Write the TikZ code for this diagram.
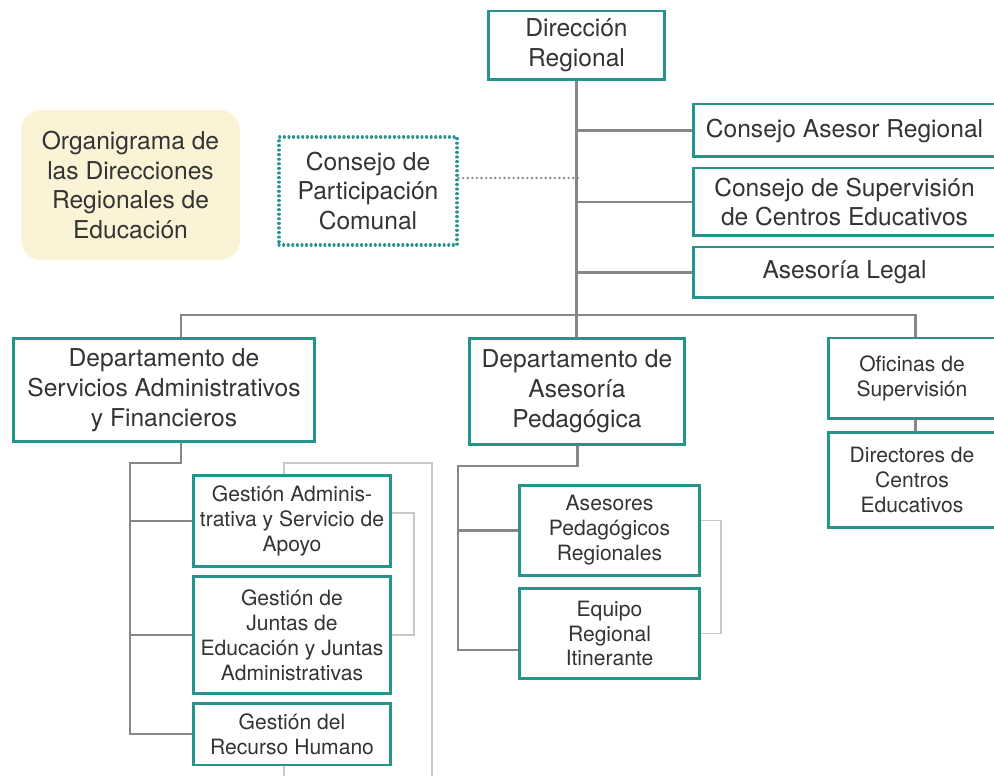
\documentclass[tikz,border=0pt]{standalone}
\usepackage{fontspec}
\setmainfont{TeX Gyre Heros}
\usepackage{tikz}

\definecolor{boxteal}{RGB}{38,148,138}
\definecolor{linegray}{RGB}{135,135,135}
\definecolor{bracketgray}{RGB}{200,200,200}
\definecolor{txtgray}{RGB}{52,52,52}
\definecolor{titlecream}{RGB}{250,243,214}

\begin{document}
\begin{tikzpicture}[x=0.02cm, y=-0.02cm,
        block/.style={rectangle, draw=boxteal, line width=1.7pt, fill=white, text=txtgray, align=center, inner sep=0pt, font=\fontsize{14}{17}\selectfont},
        smallblock/.style={block, font=\fontsize{12}{14.2}\selectfont},
        dotbox/.style={block, line width=1.8pt, dash pattern=on 0.01pt off 2.6pt, line cap=round},
        titlebox/.style={rectangle, rounded corners=0.4cm, fill=titlecream, text=txtgray, align=center, inner sep=0pt, font=\fontsize{14}{17}\selectfont},
        link/.style={draw=linegray, line width=1.7pt},
        bracket/.style={draw=bracketgray, line width=1.1pt},
        dotline/.style={draw=linegray, line width=1.5pt, dash pattern=on 0.01pt off 2.6pt, line cap=round}]

        \useasboundingbox (0,0) rectangle (994,776);

        % top level
        \node [block, minimum width=3.54cm, minimum height=1.38cm] (dr) at (576.5,45.5) {Dirección\\Regional};
        \node [block, minimum width=6.06cm, minimum height=1.06cm] (car) at (844.5,130.5) {Consejo Asesor Regional};
        \node [block, minimum width=6.06cm, minimum height=1.36cm] (csc) at (844.5,202) {Consejo de Supervisión\\de Centros Educativos};
        \node [block, minimum width=6.06cm, minimum height=1.02cm] (al) at (844.5,272.5) {Asesoría Legal};
        \node [dotbox, minimum width=3.56cm, minimum height=2.16cm] (cpc) at (368,191) {Consejo de\\Participación\\Comunal};
        \node [titlebox, minimum width=4.38cm, minimum height=3.0cm] (title) at (130.5,185) {Organigrama de\\las Direcciones\\Regionales de\\Educación};

        % departments
        \node [block, minimum width=6.04cm, minimum height=2.08cm] (dsaf) at (164,390) {Departamento de\\Servicios Administrativos\\y Financieros};
        \node [block, minimum width=4.32cm, minimum height=2.14cm] (dap) at (577,391.5) {Departamento de\\Asesoría\\Pedagógica};
        \node [smallblock, minimum width=3.36cm, minimum height=1.62cm] (os) at (912,378.5) {Oficinas de\\Supervisión};
        \node [smallblock, minimum width=3.36cm, minimum height=1.92cm] (dce) at (912,480) {Directores de\\Centros\\Educativos};

        % units
        \node [smallblock, minimum width=3.96cm, minimum height=1.84cm] (ga) at (292,521) {Gestión Adminis-\\trativa y Servicio de\\Apoyo};
        \node [smallblock, minimum width=3.96cm, minimum height=2.36cm] (gj) at (292,635) {Gestión de\\Juntas de\\Educación y Juntas\\Administrativas};
        \node [smallblock, minimum width=3.96cm, minimum height=1.24cm] (grh) at (292,734) {Gestión del\\Recurso Humano};
        \node [smallblock, minimum width=3.6cm, minimum height=1.82cm] (ap) at (609.5,530.5) {Asesores\\Pedagógicos\\Regionales};
        \node [smallblock, minimum width=3.6cm, minimum height=1.82cm] (er) at (609.5,633.5) {Equipo\\Regional\\Itinerante};

        \coordinate (barL) at (181,315);
        \coordinate (barR) at (915,315);
        \coordinate (spA) at (130,463);
        \coordinate (spB) at (458,466);
        \coordinate (brA) at (414,513);
        \coordinate (brB) at (721,520);
        \coordinate (outR) at (432,463);
        \coordinate (outB) at (432,776);
        \coordinate (dotEnd) at (578,178);

        \draw [link] (dr.south) -- (dr.south |- dap.north);
        \draw [link] (dr.south |- car.west) -- (car.west);
        \draw [link] (dr.south |- csc.west) -- (csc.west);
        \draw [link] (dr.south |- al.west) -- (al.west);
        \draw [dotline] ([yshift=0.26cm]cpc.east) -- (dotEnd);

        \draw [link] (barL |- dsaf.north) -- (barL) -- (barR) -- (barR |- os.north);
        \draw [link] (barR |- os.south) -- (barR |- dce.north);

        \draw [link] (barL |- dsaf.south) |- (spA) |- (grh.west);
        \draw [link] (spA |- ga.west) -- (ga.west);
        \draw [link] (spA |- gj.west) -- (gj.west);

        \draw [link] (dap.south) |- (spB) |- ([yshift=-0.33cm]er.west);
        \draw [link] (spB |- ap.west) -- (ap.west);

        \draw [bracket] ([yshift=0.16cm]ga.east) -| (brA |- gj.east) -- (gj.east);
        \draw [bracket] ([yshift=0.2cm]ap.east) -| (brB |- er.east) -- (er.east);
        \draw [bracket] ([xshift=-0.16cm]ga.north) |- (outR) -- (outB); % outer line
        \draw [bracket] ([xshift=-0.16cm]grh.south) -- ++(0,15);
\end{tikzpicture}
\end{document}
